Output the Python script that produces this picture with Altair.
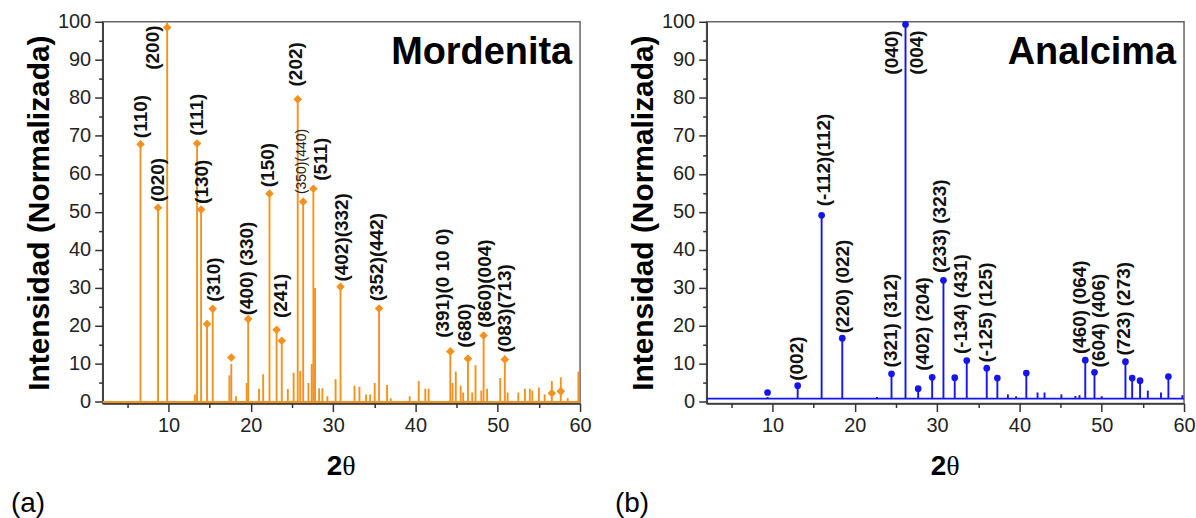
import altair as alt
import pandas as pd

# ---------------- data ----------------
X_DOMAIN = [2, 60]
Y_DOMAIN = [-0.4, 100]
X_TICKS = [5, 10, 15, 20, 25, 30, 35, 40, 45, 50, 55, 60]
Y_TICKS = [0, 5, 10, 15, 20, 25, 30, 35, 40, 45, 50, 55, 60, 65, 70, 75, 80, 85, 90, 95, 100]

# Mordenita (a)
A_BASE = 0.0
A_PEAK_X = [6.6, 8.73, 9.84, 13.2, 13.47, 13.96, 14.68, 15.37, 17.4, 17.63, 18.2, 19.5,
            19.68, 21.0, 21.5, 22.27, 23.13, 23.76, 24.5, 25.2, 25.7, 26.0, 26.36, 27.0,
            27.4, 27.6, 27.8, 28.3, 28.7, 29.3, 30.3, 30.9, 32.6, 33.2, 34.0, 34.5, 35.05,
            35.58, 36.55, 37.0, 39.3, 40.4, 41.2, 41.6, 44.24, 44.5, 44.9, 45.5, 45.8,
            46.38, 46.9, 47.3, 48.0, 48.28, 48.7, 50.3, 50.86, 51.2, 52.5, 53.3, 53.9,
            54.2, 55.0, 55.7, 56.57, 57.66, 58.5, 59.8]
A_PEAK_Y = [67.8, 51.1, 100, 2.0, 68.0, 50.6, 20.5, 24.5, 7.0, 10.0, 1.5, 5.0,
            21.8, 3.5, 7.3, 54.8, 19.0, 16.1, 3.4, 7.7, 79.6, 8.2, 52.7, 5.0,
            10.0, 56.1, 30.0, 3.6, 3.6, 1.5, 6.0, 30.3, 4.3, 4.0, 2.0, 2.0, 5.0,
            24.6, 4.5, 1.0, 1.5, 5.5, 3.5, 3.5, 13.3, 5.0, 8.0, 4.3, 2.5,
            11.4, 2.5, 9.7, 3.0, 17.5, 3.5, 6.3, 11.2, 2.5, 2.5, 3.5, 3.5,
            3.0, 3.8, 2.0, 5.5, 6.5, 1.0, 8.0]
A_MARK_X = [6.6, 8.73, 9.84, 13.47, 13.96, 14.68, 15.37, 17.63, 19.68, 22.27, 23.13, 23.76,
            25.7, 26.36, 27.6, 30.9, 35.58, 44.24, 46.38, 48.28, 50.86, 56.57, 57.66]
A_MARK_Y = [67.8, 51.1, 98.5, 68.0, 50.6, 20.5, 24.5, 11.7, 21.8, 54.8, 19.0, 16.1,
            79.6, 52.7, 56.1, 30.3, 24.6, 13.3, 11.4, 17.5, 11.2, 2.3, 2.8]
A_LABELS = ["(110)", "(020)", "(200)", "(111)", "(130)", "(310)", "(400) (330)", "(150)",
            "(241)", "(202)", "(511)", "(402)(332)", "(352)(442)", "(391)(0 10 0)",
            "(680)", "(860)(004)", "(083)(713)"]
A_LABEL_X = [6.71, 8.73, 8.08, 13.47, 14.08, 15.48, 19.53, 22.05, 23.62, 25.47, 28.5,
             31.03, 35.36, 43.33, 46.05, 48.47, 50.9]
A_LABEL_Y = [69.4, 52.6, 87.4, 70.0, 52.1, 26.4, 22.8, 56.5, 22.1, 83.0, 58.2, 31.7,
             26.5, 16.9, 14.3, 19.5, 13.0]
A_SMALL_LABELS = ["(350)(440)"]
A_SMALL_LABEL_X = [26.28]
A_SMALL_LABEL_Y = [54.7]

# Analcima (b)
B_BASE = 0.9
B_PEAK_X = [9.4, 13.06, 15.97, 18.48, 22.7, 24.46, 26.16, 27.7, 29.4, 30.77, 32.14, 33.6,
            36.03, 37.32, 38.6, 39.6, 40.84, 42.2, 43.05, 45.1, 46.8, 47.3, 48.0, 49.12,
            50.0, 52.88, 53.7, 54.66, 55.6, 57.2, 58.1, 59.8]
B_PEAK_Y = [1.3, 4.3, 49.1, 16.8, 1.3, 7.4, 100, 3.0, 6.5, 32.0, 6.4, 10.9,
            8.9, 6.3, 2.0, 1.5, 7.6, 2.5, 2.5, 2.0, 1.6, 1.8, 11.0, 7.8,
            1.5, 10.6, 6.3, 5.6, 3.0, 2.5, 6.7, 1.8]
B_MARK_X = [9.4, 13.06, 15.97, 18.48, 24.46, 26.16, 27.7, 29.4, 30.77, 32.14, 33.6, 36.03,
            37.32, 40.84, 48.0, 49.12, 52.88, 53.7, 54.66, 58.1]
B_MARK_Y = [2.5, 4.3, 49.1, 16.8, 7.4, 99.3, 3.5, 6.5, 32.0, 6.4, 10.9, 8.9,
            6.3, 7.6, 11.0, 7.8, 10.6, 6.3, 5.6, 6.7]
B_LABELS = ["(002)", "(-112)(112)", "(220) (022)", "(321) (312)", "(040)", "(004)",
            "(402) (204)", "(233) (323)", "(-134) (431)", "(-125) (125)", "(460) (064)",
            "(604) (406)", "(723) (273)"]
B_LABEL_X = [13.04, 16.27, 18.57, 24.46, 24.56, 27.6, 28.3, 30.41, 32.9, 35.98, 47.4,
             49.73, 52.76]
B_LABEL_Y = [5.6, 51.5, 18.1, 9.1, 86.1, 86.1, 8.2, 33.9, 12.6, 10.4, 12.6, 9.1, 12.2]

ORANGE = "#F5911E"
BLUE = "#1414EE"
FONT = "Liberation Sans"
W, H = 479, 383


def panel(base, px, py, mx, my, shape, labels, lx, ly, color, name, tag,
          small=None, sx=None, sy=None):
    xs = alt.Scale(domain=X_DOMAIN, nice=False, zero=False)
    ys = alt.Scale(domain=Y_DOMAIN, nice=False, zero=False)
    tick_cond_x = {"condition": {"test": "datum.value % 10 === 0", "value": 8}, "value": 4}
    tick_cond_y = {"condition": {"test": "datum.value % 10 === 0", "value": 8}, "value": 4}
    xaxis = alt.Axis(values=X_TICKS, labelExpr="datum.value % 10 === 0 ? datum.label : ''",
                     tickSize=tick_cond_x, title=None, labelFlush=False, labelOverlap=False,
                     labelPadding=4, labelFontSize=20, labelFont=FONT)
    yaxis = alt.Axis(values=Y_TICKS, labelExpr="datum.value % 10 === 0 ? datum.label : ''",
                     tickSize=tick_cond_y, title="Intensidad (Normalizada)",
                     labelFlush=False, labelOverlap=False, labelPadding=4,
                     labelFontSize=20, labelFont=FONT,
                     titleFontSize=30, titleFontWeight="bold", titleFont=FONT,
                     titleColor="#000000", titlePadding=3)

    peaks = pd.DataFrame({"x": px, "y": py, "base": [base] * len(px)})
    marks = pd.DataFrame({"x": mx, "y": my})
    labs = pd.DataFrame({"x": lx, "y": ly, "t": labels})
    baseline = pd.DataFrame({"x": [X_DOMAIN[0]], "x2": [X_DOMAIN[1]], "y": [base]})

    layers = []
    layers.append(alt.Chart(baseline).mark_rule(color=color, strokeWidth=1.8).encode(
        x=alt.X("x:Q", scale=xs, axis=xaxis), x2="x2:Q",
        y=alt.Y("y:Q", scale=ys, axis=yaxis)))
    layers.append(alt.Chart(peaks).mark_rule(color=color, strokeWidth=1.9).encode(
        x=alt.X("x:Q", scale=xs, axis=xaxis),
        y=alt.Y("base:Q", scale=ys, axis=yaxis), y2="y:Q"))
    if shape == "diamond":
        layers.append(alt.Chart(marks).mark_point(shape="diamond", filled=True, size=75,
                                                  color=color, opacity=1).encode(
            x=alt.X("x:Q", scale=xs, axis=xaxis), y=alt.Y("y:Q", scale=ys, axis=yaxis)))
    else:
        layers.append(alt.Chart(marks).mark_circle(size=45, color=color, opacity=1).encode(
            x=alt.X("x:Q", scale=xs, axis=xaxis), y=alt.Y("y:Q", scale=ys, axis=yaxis)))
    layers.append(alt.Chart(labs).mark_text(angle=270, align="left", baseline="middle",
                                            font=FONT, fontSize=19, fontWeight="bold",
                                            color="#111111").encode(
        x=alt.X("x:Q", scale=xs, axis=xaxis), y=alt.Y("y:Q", scale=ys, axis=yaxis),
        text="t:N"))
    if small:
        sl = pd.DataFrame({"x": sx, "y": sy, "t": small})
        layers.append(alt.Chart(sl).mark_text(angle=270, align="left", baseline="middle",
                                              font=FONT, fontSize=14, color="#222222").encode(
            x=alt.X("x:Q", scale=xs, axis=xaxis), y=alt.Y("y:Q", scale=ys, axis=yaxis),
            text="t:N"))
    # in-plot name
    layers.append(alt.Chart(pd.DataFrame({"t": [name]})).mark_text(
        align="right", baseline="alphabetic", font=FONT, fontSize=38, fontWeight="bold",
        color="#000000").encode(x=alt.value(W - 8), y=alt.value(42), text="t:N"))
    # x axis title "2θ"
    layers.append(alt.Chart(pd.DataFrame({"t": ["2"]})).mark_text(
        align="right", baseline="alphabetic", font=FONT, fontSize=28, fontWeight="bold",
        color="#000000").encode(x=alt.value(W / 2 + 1), y=alt.value(455), text="t:N"))
    layers.append(alt.Chart(pd.DataFrame({"t": ["θ"]})).mark_text(
        align="left", baseline="alphabetic", font="Liberation Serif", fontSize=28,
        color="#000000").encode(x=alt.value(W / 2 + 1), y=alt.value(455), text="t:N"))
    # panel tag
    layers.append(alt.Chart(pd.DataFrame({"t": [tag]})).mark_text(
        align="left", baseline="alphabetic", font=FONT, fontSize=28,
        color="#000000").encode(x=alt.value(-92), y=alt.value(492), text="t:N"))

    return alt.layer(*layers).properties(width=W, height=H)


left = panel(A_BASE, A_PEAK_X, A_PEAK_Y, A_MARK_X, A_MARK_Y, "diamond", A_LABELS,
             A_LABEL_X, A_LABEL_Y, ORANGE, "Mordenita", "(a)",
             A_SMALL_LABELS, A_SMALL_LABEL_X, A_SMALL_LABEL_Y)
right = panel(B_BASE, B_PEAK_X, B_PEAK_Y, B_MARK_X, B_MARK_Y, "circle", B_LABELS,
              B_LABEL_X, B_LABEL_Y, BLUE, "Analcima", "(b)")

chart = alt.hconcat(left, right, spacing=22).properties(
    padding={"left": 10, "top": 10, "right": 0, "bottom": 0},
    background="white"
).configure_view(stroke="#666666", strokeWidth=1.5).configure_axis(
    labelFont=FONT, labelFontSize=20, labelColor="#222222", tickColor="#333333",
    domainColor="#333333", domainWidth=1.5, tickWidth=1.5, grid=False
)

chart.save("out.html", embed_options={"renderer": "svg", "actions": False})
